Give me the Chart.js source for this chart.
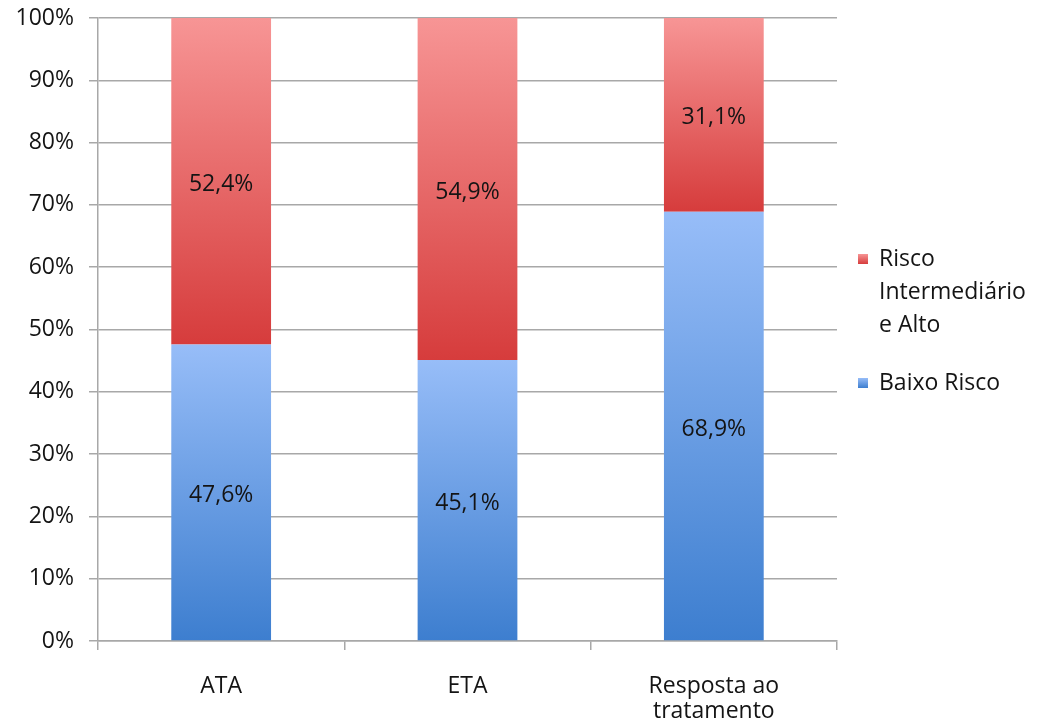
<!DOCTYPE html>
<html>
<head>
<meta charset="utf-8">
<script src="https://cdn.jsdelivr.net/npm/chart.js@4.4.1/dist/chart.umd.min.js"></script>
<style>
  html, body { margin: 0; padding: 0; background: #ffffff; }
  #wrap { position: relative; width: 1037px; height: 722px; }
</style>
</head>
<body>
<div id="wrap"><canvas id="chart" width="1037" height="722"></canvas></div>
<script>
// Categories and series (percent of patients)
const categories = ['ATA', 'ETA', ['Resposta ao', 'tratamento']];
const baixoRisco = [47.6, 45.1, 68.9];
const riscoIntermedioAlto = [52.4, 54.9, 31.1];
const seriesNames = ['Baixo Risco', ['Risco', 'Intermediário', 'e Alto']];
const yTicks = [0, 10, 20, 30, 40, 50, 60, 70, 80, 90, 100];

const FONT = "'Open Sans', 'DejaVu Sans', sans-serif";
const FONT_SIZE = 23;
const TEXT = '#141414';
const GRID = '#a8a8a8';

// Vertical gradient for each stacked segment, light at top, dark at bottom
function segmentGradient(ctx, light, dark) {
  const chart = ctx.chart;
  const y = chart.scales.y;
  if (!y || ctx.type !== 'data') return dark;
  const ds = chart.data.datasets;
  let start = 0;
  for (let i = 0; i < ctx.datasetIndex; i++) start += ds[i].data[ctx.dataIndex];
  const end = start + ds[ctx.datasetIndex].data[ctx.dataIndex];
  const top = y.getPixelForValue(end);
  const bottom = y.getPixelForValue(start);
  if (!isFinite(top) || !isFinite(bottom) || top === bottom) return dark;
  const g = chart.ctx.createLinearGradient(0, top, 0, bottom);
  g.addColorStop(0, light);
  g.addColorStop(1, dark);
  return g;
}

const palette = {
  blue: { light: '#97bdf8', dark: '#3d7ecf' },
  red:  { light: '#f79595', dark: '#d63c3c' }
};

// Value labels centred in each segment
const valueLabels = {
  id: 'valueLabels',
  afterDatasetsDraw(chart) {
    const c = chart.ctx;
    c.save();
    c.font = `${FONT_SIZE}px ${FONT}`;
    c.fillStyle = TEXT;
    c.textAlign = 'center';
    c.textBaseline = 'middle';
    chart.data.datasets.forEach((ds, di) => {
      const meta = chart.getDatasetMeta(di);
      meta.data.forEach((bar, i) => {
        const v = ds.data[i];
        const mid = (bar.y + bar.base) / 2 + 3;
        c.fillText(v.toFixed(1).replace('.', ',') + '%', bar.x, mid);
      });
    });
    c.restore();
  }
};

// Legend on the right, with the multi-line series name
const sideLegend = {
  id: 'sideLegend',
  afterDraw(chart) {
    const c = chart.ctx;
    c.save();
    c.font = `${FONT_SIZE}px ${FONT}`;
    c.textAlign = 'left';
    c.textBaseline = 'middle';
    const items = [
      { lines: seriesNames[1], color: palette.red, y: 259 },
      { lines: [seriesNames[0]], color: palette.blue, y: 383 }
    ];
    items.forEach(it => {
      const g = c.createLinearGradient(0, it.y - 5, 0, it.y + 5);
      g.addColorStop(0, it.color.light);
      g.addColorStop(1, it.color.dark);
      c.fillStyle = g;
      c.fillRect(858, it.y - 5, 10, 10);
      c.fillStyle = TEXT;
      it.lines.forEach((t, k) => c.fillText(t, 879, it.y + k * 33));
    });
    c.restore();
  }
};

new Chart(document.getElementById('chart'), {
  type: 'bar',
  data: {
    labels: categories,
    datasets: [
      {
        label: 'Baixo Risco',
        data: baixoRisco,
        backgroundColor: ctx => segmentGradient(ctx, palette.blue.light, palette.blue.dark),
        borderWidth: 0,
        categoryPercentage: 1,
        barPercentage: 0.405
      },
      {
        label: 'Risco Intermediário e Alto',
        data: riscoIntermedioAlto,
        backgroundColor: ctx => segmentGradient(ctx, palette.red.light, palette.red.dark),
        borderWidth: 0,
        categoryPercentage: 1,
        barPercentage: 0.405
      }
    ]
  },
  options: {
    responsive: false,
    animation: false,
    layout: { padding: { left: 0, top: 18, right: 200, bottom: 0 } },
    plugins: {
      legend: { display: false },
      tooltip: { enabled: false }
    },
    scales: {
      x: {
        stacked: true,
        afterFit: s => { s.height = 81; s.paddingLeft = 0; s.paddingRight = 0; },
        grid: { drawOnChartArea: false, drawTicks: true, tickLength: 9, color: GRID, lineWidth: 1.5, offset: true },
        border: { display: true, color: GRID, width: 1.5 },
        ticks: { color: TEXT, font: { family: FONT, size: FONT_SIZE, lineHeight: 1.1 }, padding: 24, maxRotation: 0 }
      },
      y: {
        stacked: true,
        min: 0,
        max: 100,
        afterFit: s => { s.width = 98; s.paddingTop = 0; s.paddingBottom = 0; },
        afterBuildTicks: s => { s.ticks = yTicks.map(v => ({ value: v })); },
        grid: { color: GRID, lineWidth: 1.5, tickLength: 9 },
        border: { display: true, color: GRID, width: 1.5 },
        ticks: {
          color: TEXT,
          font: { family: FONT, size: FONT_SIZE },
          padding: 15,
          callback: v => v + '%'
        }
      }
    }
  },
  plugins: [valueLabels, sideLegend]
});
</script>
</body>
</html>
